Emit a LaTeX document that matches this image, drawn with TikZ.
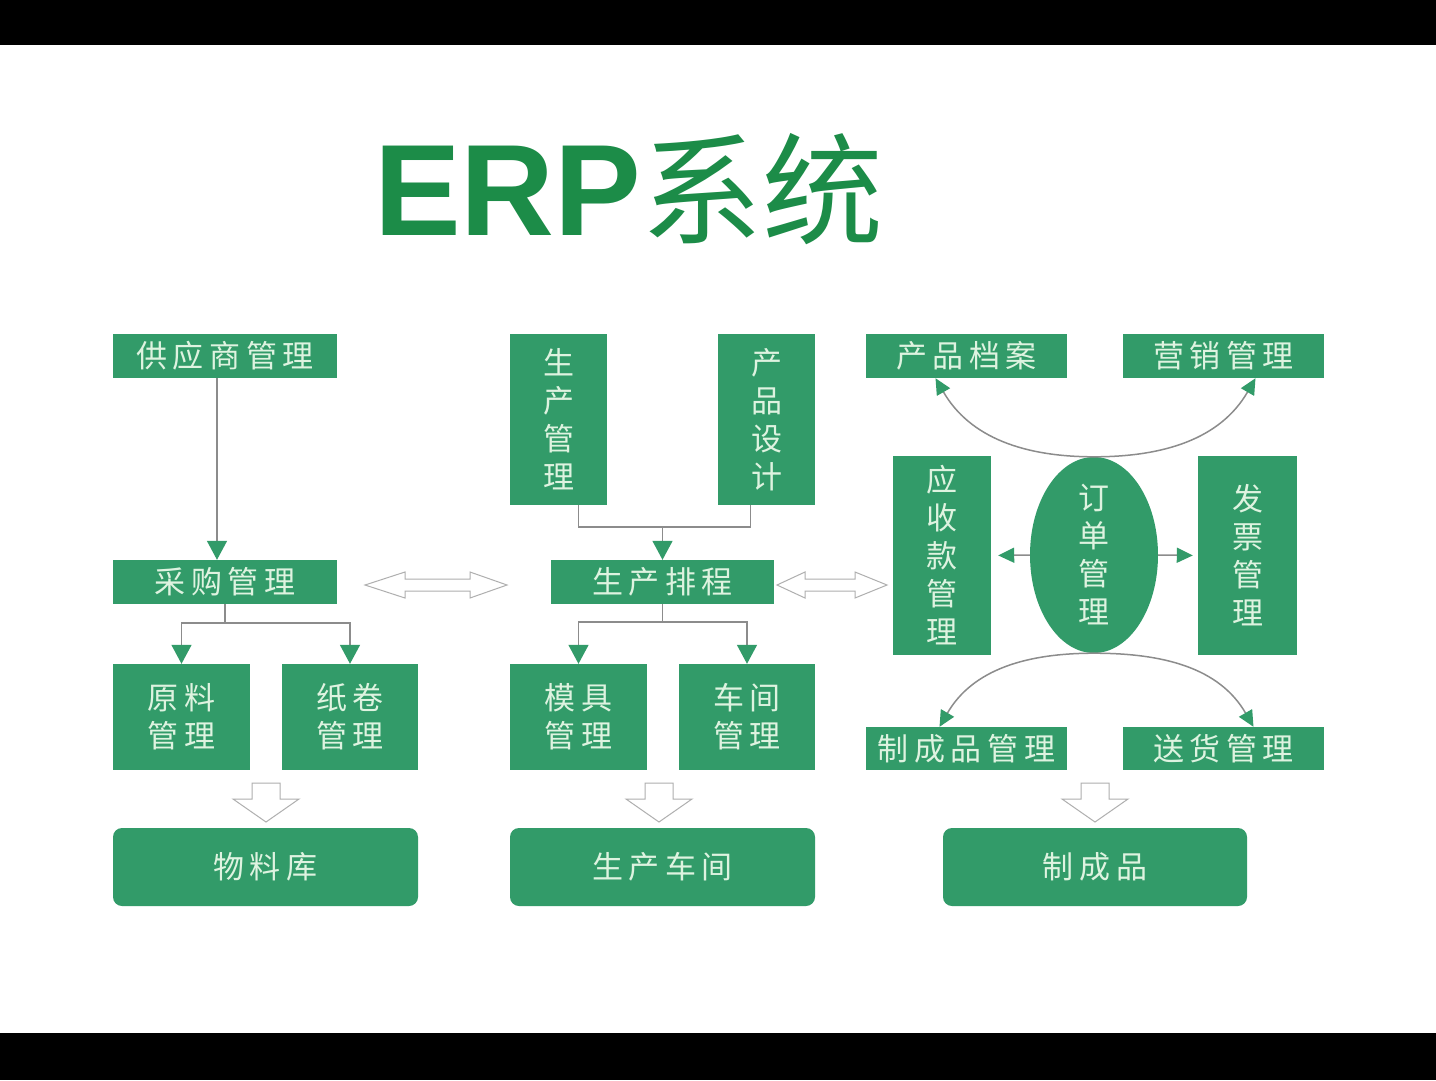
\documentclass[tikz,border=0pt]{standalone}
\usepackage{fontspec}
\setmainfont{Liberation Sans}
\newfontfamily\cjk[LetterSpace=18]{Noto Sans CJK SC}
\newfontfamily\cjktitle{Noto Sans CJK SC}
\usetikzlibrary{arrows.meta,shapes.geometric}
\definecolor{boxgreen}{RGB}{50,155,105}
\definecolor{boxtext}{RGB}{222,243,224}
\definecolor{titlegreen}{RGB}{28,140,72}
\definecolor{linegray}{RGB}{140,140,140}
\begin{document}
\begin{tikzpicture}[x=1pt,y=-1pt,
    box/.style={fill=boxgreen, text=boxtext, inner sep=0pt, align=center,
      font=\cjk\fontsize{31}{38}\selectfont},
    store/.style={box, rounded corners=9pt, minimum width=305pt, minimum height=78pt},
    conn/.style={draw=linegray, line width=1.5pt},
    link/.style={conn, -{Triangle[length=19pt,width=20pt,color=boxgreen]}},
    smalllink/.style={conn, -{Triangle[length=16pt,width=15pt,color=boxgreen]}},
    hollow/.style={draw=linegray!70, line width=1pt, fill=white, line join=miter}]
    \useasboundingbox (0,0) rectangle (1436,1080);
    \fill[white] (0,45) rectangle (1436,1033);
    \fill[black] (0,0) rectangle (1436,45);
    \fill[black] (0,1033) rectangle (1436,1080);
    % title
    \node[anchor=base west, inner sep=0pt, text=titlegreen] (title) at (374,235)
        {\fontsize{130}{130}\selectfont\bfseries ERP\cjktitle\mdseries\fontsize{121}{121}\selectfont 系统};
    % purchasing column
    \node[box, minimum width=224pt, minimum height=44pt] (gys) at (225,356) {供应商管理};
    \node[box, minimum width=224pt, minimum height=44pt] (cg) at (225,582) {采购管理};
    \node[box, minimum width=137pt, minimum height=106pt] (yl) at (181.5,717) {原料\\管理};
    \node[box, minimum width=136pt, minimum height=106pt] (zj) at (350,717) {纸卷\\管理};
    \node[store] (wlk) at (265.5,867) {物料库};
    % production column
    \node[box, minimum width=97pt, minimum height=171pt] (scgl) at (558.5,419.5) {生\\产\\管\\理};
    \node[box, minimum width=97pt, minimum height=171pt] (cpsj) at (766.5,419.5) {产\\品\\设\\计};
    \node[box, minimum width=223pt, minimum height=44pt] (scpc) at (662.5,582) {生产排程};
    \node[box, minimum width=137pt, minimum height=106pt] (mj) at (578.5,717) {模具\\管理};
    \node[box, minimum width=136pt, minimum height=106pt] (cj) at (747,717) {车间\\管理};
    \node[store] (sccj) at (662.5,867) {生产车间};
    % sales column
    \node[box, minimum width=201pt, minimum height=44pt] (cpda) at (966.5,356) {产品档案};
    \node[box, minimum width=201pt, minimum height=44pt] (yx) at (1223.5,356) {营销管理};
    \node[box, minimum width=98pt, minimum height=199pt] (ysk) at (942,555.5) {应\\收\\款\\管\\理};
    \node[box, ellipse, inner sep=-30pt, minimum width=128pt, minimum height=196pt] (dd) at (1094,555) {订\\单\\管\\理};
    \node[box, minimum width=99pt, minimum height=199pt] (fp) at (1247.5,555.5) {发\\票\\管\\理};
    \node[box, minimum width=201pt, minimum height=43pt] (zcpgl) at (966.5,748.5) {制成品管理};
    \node[box, minimum width=201pt, minimum height=43pt] (sh) at (1223.5,748.5) {送货管理};
    \node[store, minimum width=304pt] (zcp) at (1095,867) {制成品};
    % connectors
    \draw[link] ([xshift=-8pt]gys.south) -- ([xshift=-8pt]cg.north);
    \draw[conn] (cg.south) -- ++(0,19) coordinate (cgj);
    \draw[link] (cgj) -| (yl.north);
    \draw[link] (cgj) -| (zj.north);
    \draw[conn] ([xshift=20pt]scgl.south) -- ++(0,22) coordinate (scj) -| ([xshift=-16pt]cpsj.south);
    \draw[link] (scj -| scpc.north) -- (scpc.north);
    \draw[conn] (scpc.south) -- ++(0,18) coordinate (pcj);
    \draw[link] (pcj) -| (mj.north);
    \draw[link] (pcj) -| (cj.north);
    \draw[smalllink, shorten >=7pt] (dd.west) -- (ysk.east);
    \draw[smalllink, shorten >=5pt] (dd.east) -- (fp.west);
    \draw[smalllink] (dd.north) to[out=180,in=-60] ([xshift=-31pt]cpda.south);
    \draw[smalllink] (dd.north) to[out=0,in=-120] ([xshift=32pt]yx.south);
    \draw[smalllink] (dd.south) to[out=180,in=60] ([xshift=-27pt]zcpgl.north);
    \draw[smalllink] (dd.south) to[out=0,in=120] ([xshift=30pt]sh.north);
    % hollow arrows
    \draw[hollow] (365,585) -- ++(40,-13) -- ++(0,7) -- ++(65,0) -- ++(0,-7) -- ++(37,13)
        -- ++(-37,13) -- ++(0,-7) -- ++(-65,0) -- ++(0,7) -- cycle;
    \draw[hollow] (777,585) -- ++(28,-13) -- ++(0,7) -- ++(50,0) -- ++(0,-7) -- ++(32,13)
        -- ++(-32,13) -- ++(0,-7) -- ++(-50,0) -- ++(0,7) -- cycle;
    \foreach \x in {266,659,1095}
        \draw[hollow] ({\x-14},783) -- ++(28,0) -- ++(0,16) -- ++(19,0) -- ++(-33,23)
            -- ++(-33,-23) -- ++(19,0) -- cycle;
\end{tikzpicture}
\end{document}
